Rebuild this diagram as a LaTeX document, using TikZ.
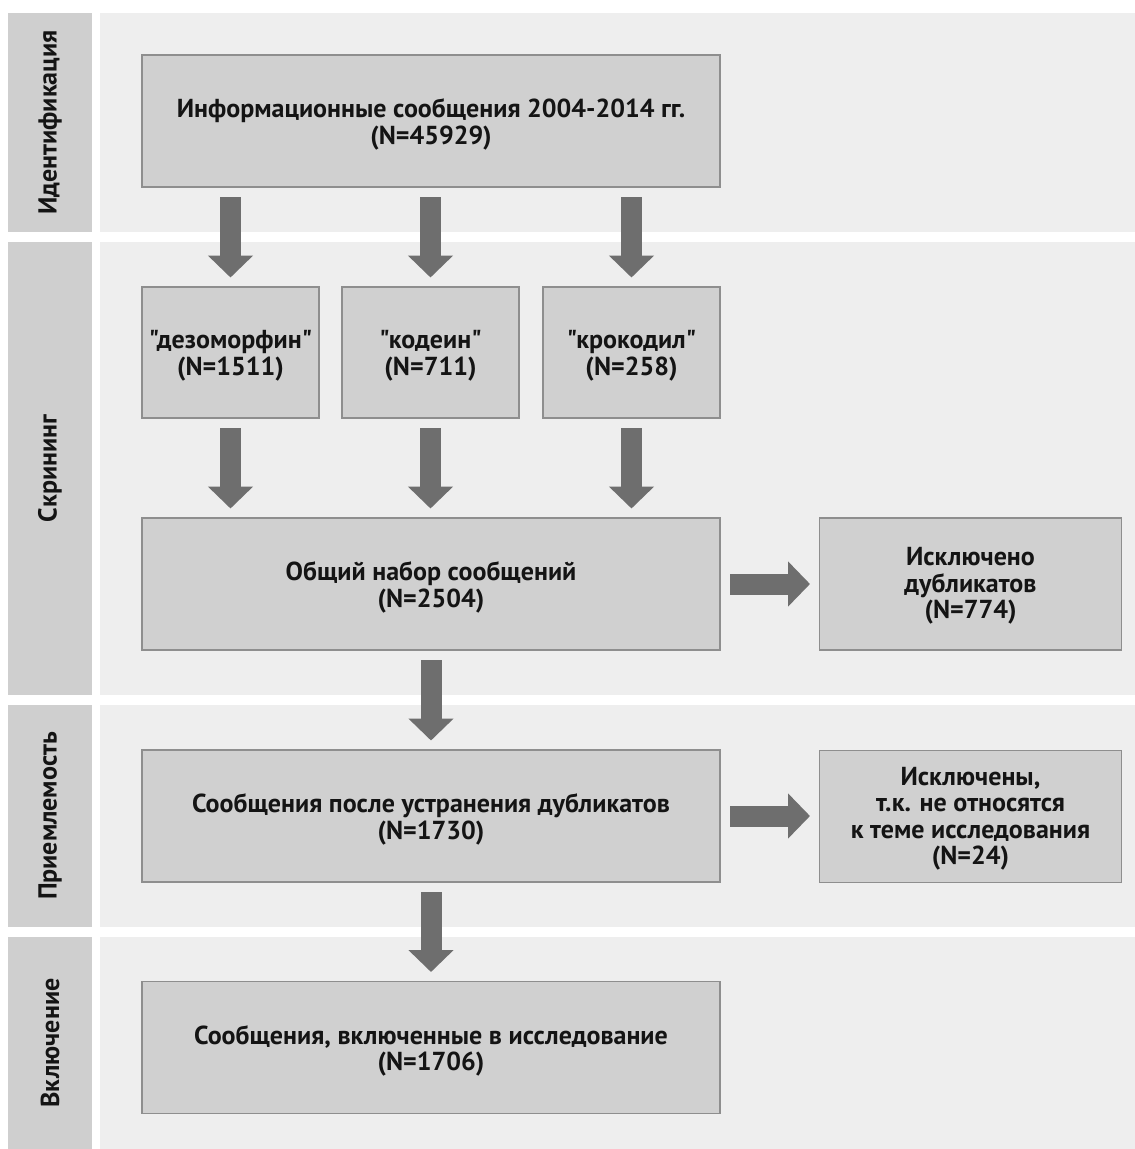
\documentclass[tikz,border=0pt]{standalone}
\usepackage{fontspec}
\setmainfont{PT Sans}[Ligatures=TeXOff]
\usetikzlibrary{arrows.meta}
\definecolor{colbg}{HTML}{CFCFCF}
\definecolor{panelbg}{HTML}{EEEEEE}
\definecolor{boxfill}{HTML}{D0D0D0}
\definecolor{boxline}{HTML}{8E8E8E}
\definecolor{arrowcol}{HTML}{6E6E6E}
\tikzset{
  txt/.style={font=\bfseries\fontsize{26}{26.5}\selectfont, text=black!92},
  flowbox/.style={draw=boxline, line width=1.3pt, fill=boxfill, inner sep=0pt, outer sep=0pt},
  bigbox/.style={flowbox, minimum width=578pt, minimum height=132pt},
  smallbox/.style={flowbox, minimum width=177pt, minimum height=131pt},
  sidebox/.style={flowbox, minimum width=302pt, minimum height=132pt},
  boxtext/.style={txt, align=center, inner sep=0pt},
  stagelabel/.style={txt, rotate=90, inner sep=0pt},
  fatarrow/.style={draw=arrowcol, line width=21pt, -{Triangle[length=22pt, width=44pt, fill=arrowcol]}, shorten <=10pt, shorten >=9.5pt},
}
\begin{document}
\begin{tikzpicture}[x=1pt, y=-1pt]
\useasboundingbox (0,0) rectangle (1135,1149);
\fill[white] (0,0) rectangle (1135,1149);
% left column bands
\fill[colbg] (8,13) rectangle (92,232);
\fill[colbg] (8,242) rectangle (92,695);
\fill[colbg] (8,705) rectangle (92,927);
\fill[colbg] (8,937) rectangle (92,1149);
% right panels
\fill[panelbg] (100,13) rectangle (1135,232);
\fill[panelbg] (100,242) rectangle (1135,695);
\fill[panelbg] (100,705) rectangle (1135,927);
\fill[panelbg] (100,937) rectangle (1135,1149);
% stage labels
\node[stagelabel] (l1) at (50,122.5) {Идентификация};
\node[stagelabel] (l2) at (50,468.5) {Скрининг};
\node[stagelabel] (l3) at (50,816) {Приемлемость};
\node[stagelabel] (l4) at (50,1043) {Включение};
% boxes
\node[bigbox] (top) at (431,121) {};
\node[smallbox] (b1) at (230.5,352.5) {};
\node[smallbox] (b2) at (430.5,352.5) {};
\node[smallbox] (b3) at (631.5,352.5) {};
\node[bigbox] (total) at (431,584) {};
\node[sidebox] (dup) at (970.5,584) {};
\node[bigbox] (after) at (431,816) {};
\node[sidebox] (irr) at (970.5,816.5) {};
\node[bigbox] (final) at (431,1047.5) {};
% box texts
\node[boxtext] (ttop) at ([yshift=-3.5pt]top.center) {Информационные сообщения 2004-2014 гг.\\(N=45929)};
\node[boxtext] (tb1) at ([yshift=-3.5pt]b1.center) {"дезоморфин"\\(N=1511)};
\node[boxtext] (tb2) at ([yshift=-3.5pt]b2.center) {"кодеин"\\(N=711)};
\node[boxtext] (tb3) at ([yshift=-3.5pt]b3.center) {"крокодил"\\(N=258)};
\node[boxtext] (ttotal) at ([yshift=-3.5pt]total.center) {Общий набор сообщений\\(N=2504)};
\node[boxtext] (tdup) at ([yshift=-2pt]dup.center) {Исключено\\дубликатов\\(N=774)};
\node[boxtext] (tafter) at ([yshift=-3.5pt]after.center) {Сообщения после устранения дубликатов\\(N=1730)};
\node[boxtext] (tirr) at ([yshift=-2pt]irr.center) {Исключены,\\т.к. не относятся\\к теме исследования\\(N=24)};
\node[boxtext] (tfinal) at ([yshift=-3.5pt]final.center) {Сообщения, включенные в исследование\\(N=1706)};
% arrows
\draw[fatarrow] (top.south -| b1.north) -- (b1.north);
\draw[fatarrow] (top.south -| b2.north) -- (b2.north);
\draw[fatarrow] (top.south -| b3.north) -- (b3.north);
\draw[fatarrow] (b1.south) -- (b1.south |- total.north);
\draw[fatarrow] (b2.south) -- (b2.south |- total.north);
\draw[fatarrow] (b3.south) -- (b3.south |- total.north);
\draw[fatarrow] (total.east) -- (dup.west |- total.east);
\draw[fatarrow] (total.south) -- (after.north);
\draw[fatarrow] (after.east) -- (irr.west |- after.east);
\draw[fatarrow] (after.south) -- (final.north);
\end{tikzpicture}
\end{document}
